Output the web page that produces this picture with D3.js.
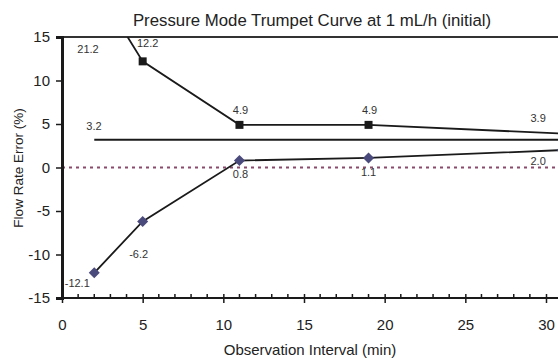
<!DOCTYPE html>
<html><head><meta charset="utf-8">
<script src="https://cdn.jsdelivr.net/npm/d3@7"></script>
<style>body{margin:0;background:#fff}svg{display:block;font-family:"Liberation Sans",Arial,sans-serif}</style>
</head><body><svg id="c" width="558" height="360"></svg>
<script>
const intervals = [2, 5, 11, 19, 31];
const maxError = [21.2, 12.2, 4.9, 4.9, 3.9];
const minError = [-12.1, -6.2, 0.8, 1.1, 2.0];
const meanError = 3.2;
const xTicks = [0, 5, 10, 15, 20, 25, 30];
const yTicks = [-15, -10, -5, 0, 5, 10, 15];
const title = "Pressure Mode Trumpet Curve at 1 mL/h (initial)";
const xTitle = "Observation Interval (min)";
const yTitle = "Flow Rate Error (%)";
// label offsets (px) relative to their points
const maxLabelOff = [[0,0],[5,-17],[1,-14],[1,-14],[-24,-14]];
const minLabelOff = [[-17,11],[-4,34],[1,15],[0,15],[-24,12]];

const svg = d3.select("#c");
const x = d3.scaleLinear().domain([0,30]).range([62,546]);
const y = d3.scaleLinear().domain([-15,15]).range([298,37]);
const FONT = "Liberation Sans, Arial, sans-serif";

svg.append("defs").append("clipPath").attr("id","pc").append("rect")
  .attr("x",62).attr("y",37).attr("width",560).attr("height",261);

// title
svg.append("text").attr("x",312).attr("y",26).attr("text-anchor","middle")
  .attr("font-size",16.8).attr("fill","#222").text(title);

// zero dotted line
svg.append("line").attr("x1",x(0)).attr("x2",600).attr("y1",y(0)).attr("y2",y(0))
  .attr("stroke","#8a4a6a").attr("stroke-width",1.8).attr("stroke-dasharray","3,4");

// top border
svg.append("line").attr("x1",x(0)).attr("x2",558).attr("y1",y(15)).attr("y2",y(15))
  .attr("stroke","#333").attr("stroke-width",2);

const g = svg.append("g").attr("clip-path","url(#pc)");
const line = d3.line().x(d=>x(d[0])).y(d=>y(d[1]));
const maxPts = intervals.map((t,i)=>[t,maxError[i]]);
const minPts = intervals.map((t,i)=>[t,minError[i]]);
g.append("path").attr("d",line(maxPts)).attr("fill","none").attr("stroke","#1a1a1a").attr("stroke-width",1.8);
g.append("path").attr("d",line(minPts)).attr("fill","none").attr("stroke","#1a1a1a").attr("stroke-width",1.8);
g.append("path").attr("d",line([[intervals[0],meanError],[intervals[intervals.length-1],meanError]]))
  .attr("fill","none").attr("stroke","#1a1a1a").attr("stroke-width",2);

g.selectAll("rect.sq").data(maxPts).join("rect").attr("class","sq")
  .attr("x",d=>x(d[0])-4).attr("y",d=>y(d[1])-4).attr("width",8).attr("height",8).attr("fill","#1a1a1a");
g.selectAll("rect.dm").data(minPts).join("rect").attr("class","dm")
  .attr("x",-3.9).attr("y",-3.9).attr("width",7.8).attr("height",7.8)
  .attr("transform",d=>`translate(${x(d[0])},${y(d[1])}) rotate(45)`).attr("fill","#4b4a7c");

// data labels
const lab = (pts, vals, offs) => {
  pts.forEach((p,i)=>{
    let px = x(p[0]) + offs[i][0];
    let py = Math.max(y(p[1]), y(15)) + offs[i][1];
    if (i===0 && p[1]>15) { px = 88; py = 50; }
    svg.append("text").attr("x",px).attr("y",py).attr("text-anchor","middle")
      .attr("dominant-baseline","middle").attr("font-size",11).attr("fill","#333")
      .text(vals[i].toFixed(1));
  });
};
lab(maxPts, maxError, maxLabelOff);
lab(minPts, minError, minLabelOff);
svg.append("text").attr("x",94).attr("y",127).attr("text-anchor","middle")
  .attr("dominant-baseline","middle").attr("font-size",11).attr("fill","#333").text(meanError.toFixed(1));

// y axis
const ya = svg.append("g").attr("transform",`translate(${x(0)},0)`)
  .call(d3.axisLeft(y).tickValues(yTicks).tickSize(6).tickPadding(6).tickFormat(d=>String(d)));
ya.select(".domain").attr("stroke","#1a1a1a").attr("stroke-width",3);
ya.selectAll(".tick line").attr("stroke","#1a1a1a").attr("stroke-width",1.5);
ya.selectAll("text").attr("font-size",15).attr("fill","#222").attr("font-family",FONT);

// x axis minor ticks (inside)
const minor = d3.range(0,32,1).filter(v=>v%5!==0);
svg.append("g").selectAll("line").data(minor).join("line")
  .attr("x1",d=>x(d)).attr("x2",d=>x(d)).attr("y1",y(-15)-4).attr("y2",y(-15))
  .attr("stroke","#1a1a1a").attr("stroke-width",1.5);
// x axis
const xa = svg.append("g").attr("transform",`translate(0,${y(-15)})`)
  .call(d3.axisBottom(x).tickValues(xTicks).tickSize(5).tickPadding(16).tickFormat(d=>String(d)));
xa.select(".domain").attr("stroke","#1a1a1a").attr("stroke-width",2).attr("d",`M${x(0)},0H600`);
xa.selectAll(".tick line").attr("y1",-4).attr("y2",5).attr("stroke","#1a1a1a").attr("stroke-width",1.5);
xa.selectAll("text").attr("font-size",15).attr("fill","#222").attr("font-family",FONT);

svg.append("text").attr("x",310).attr("y",355).attr("text-anchor","middle")
  .attr("font-size",15).attr("fill","#222").text(xTitle);
svg.append("text").attr("transform","translate(23,168) rotate(-90)").attr("text-anchor","middle")
  .attr("font-size",13.5).attr("fill","#222").text(yTitle);
</script></body></html>
